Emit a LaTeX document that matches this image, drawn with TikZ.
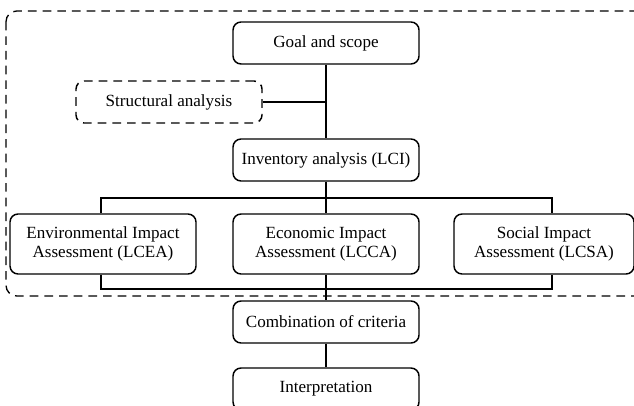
\documentclass[tikz,border=0pt]{standalone}
\usepackage{fontspec}
\setmainfont{Liberation Serif}
\begin{document}
\begin{tikzpicture}[x=0.75pt, y=-0.75pt,
    stage/.style={draw, rounded corners=6pt, line width=1.1pt, minimum width=139.5pt, minimum height=31.5pt, align=center, inner sep=2pt, font=\fontsize{12.8}{14.5}\selectfont},
    tall/.style={minimum height=45pt},
    link/.style={line width=2.2pt}]
    \clip (0,0) rectangle (634,406);
    % Outer frame
    \draw[line width=1pt, dash pattern=on 6.5pt off 4.5pt, rounded corners=8pt] (6,11) rectangle (680,296);
    % Main column
    \node[stage] (goal) at (326,43) {Goal and scope};
    \node[stage, dash pattern=on 6.5pt off 4.5pt] (struct) at (169,102) {Structural analysis};
    \node[stage] (inv) at (326,160) {Inventory analysis (LCI)};
    % Impact assessments
    \node[stage, tall] (env) at (103,244) {Environmental Impact\\Assessment (LCEA)};
    \node[stage, tall] (eco) at (326,244) {Economic Impact\\Assessment (LCCA)};
    \node[stage, tall, minimum width=135pt] (soc) at (544,244) {Social Impact\\Assessment (LCSA)};
    % Lower part
    \node[stage] (comb) at (326,322) {Combination of criteria};
    \node[stage] (interp) at (326,389) {Interpretation};
    % Bars
    \coordinate (tl) at (101,198);
    \coordinate (tr) at (552,198);
    \coordinate (bl) at (101,289);
    \coordinate (br) at (552,289);
    % Connectors
    \draw[link] (goal.south) -- (inv.north);
    \draw[link] (struct.east) -- (struct.east -| goal.south);
    \draw[link] (inv.south) -- (eco.north);
    \draw[link] (env.north -| tl) -- (tl) -- (tr) -- (soc.north -| tr);
    \draw[link] (env.south -| bl) -- (bl) -- (br) -- (soc.south -| br);
    \draw[link] (eco.south) -- (comb.north);
    \draw[link] (comb.south) -- (interp.north);
\end{tikzpicture}
\end{document}
